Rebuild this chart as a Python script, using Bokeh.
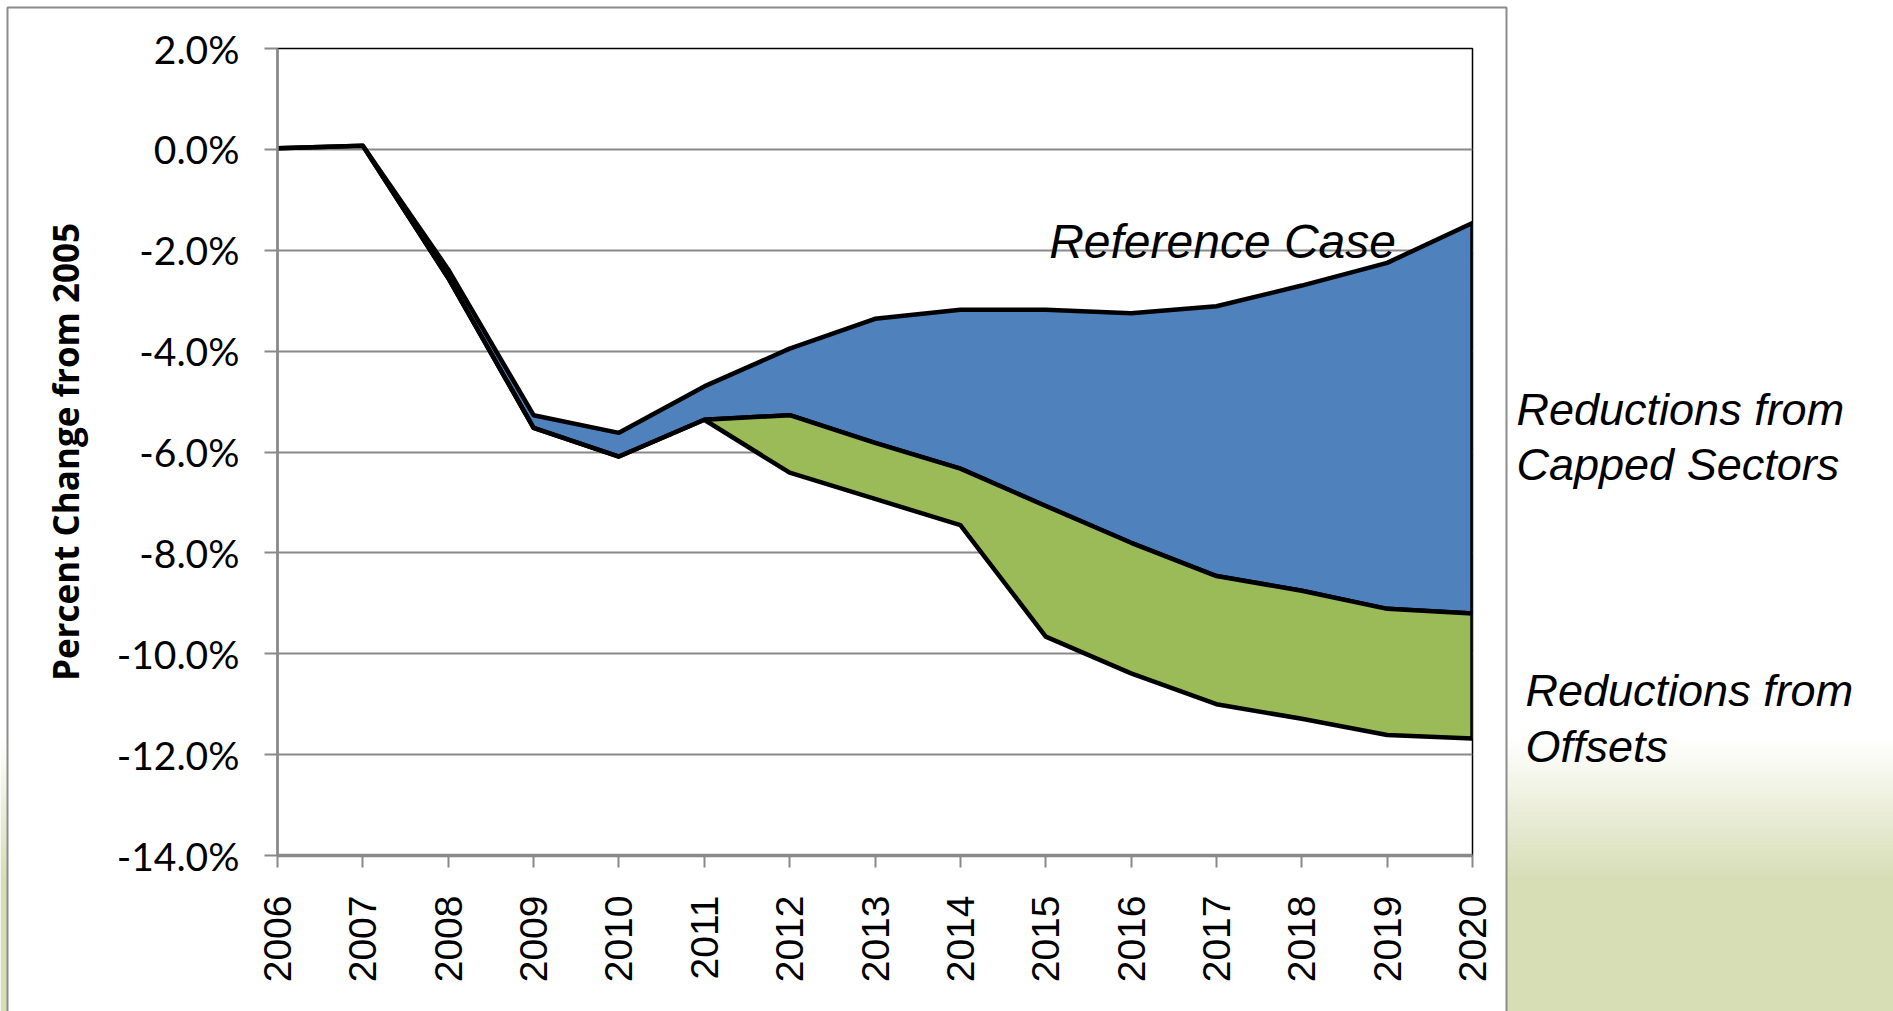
import math
from bokeh.plotting import figure
from bokeh.models import FixedTicker, Range1d, Label
from bokeh.embed import file_html
from bokeh.resources import INLINE

# ---------------- data ----------------
years = [2006, 2007, 2008, 2009, 2010, 2011, 2012, 2013, 2014, 2015, 2016, 2017, 2018, 2019, 2020]
reference_case = [0.02, 0.07, -2.38, -5.27, -5.62, -4.70, -3.95, -3.36, -3.18, -3.18, -3.25, -3.11, -2.70, -2.25, -1.46]
after_capped = [0.02, 0.07, -2.55, -5.52, -6.09, -5.36, -5.27, -5.82, -6.33, -7.07, -7.80, -8.46, -8.75, -9.11, -9.20]
after_offsets = [0.02, 0.07, -2.55, -5.52, -6.09, -5.36, -6.41, -6.93, -7.45, -9.66, -10.39, -11.00, -11.29, -11.61, -11.68]
y_ticks = [2, 0, -2, -4, -6, -8, -10, -12, -14]
y_tick_labels = ["2.0%", "0.0%", "-2.0%", "-4.0%", "-6.0%", "-8.0%", "-10.0%", "-12.0%", "-14.0%"]

BLUE = "#4F81BD"
GREEN = "#9BBB59"
GRID = "#898989"
PAGE_W, PAGE_H = 1893, 1011

# ---------------- page background (slide) ----------------
bg = figure(width=PAGE_W, height=PAGE_H, x_range=Range1d(0, PAGE_W), y_range=Range1d(PAGE_H, 0),
            toolbar_location=None, output_backend="svg", min_border=0,
            x_axis_location=None, y_axis_location=None,
            outline_line_color=None, background_fill_color="white", border_fill_color="white",
            styles={"position": "absolute", "left": "0px", "top": "0px"})
bg.grid.visible = False

g_top, g_bot, n = 735, 880, 40
c0 = (255, 255, 255)
c1 = (215, 221, 181)
tops, bots, cols = [], [], []
for i in range(n):
    t = i / (n - 1)
    tops.append(g_top + (g_bot - g_top) * i / n)
    bots.append(g_top + (g_bot - g_top) * (i + 1) / n + 0.5)
    cols.append("#%02x%02x%02x" % tuple(round(a + (b - a) * t) for a, b in zip(c0, c1)))
bg.quad(left=0, right=PAGE_W, top=tops, bottom=bots, fill_color=cols, line_color=None)
bg.quad(left=0, right=PAGE_W, top=g_bot, bottom=PAGE_H, fill_color="#d7ddb5", line_color=None)
# white chart card with grey border
bg.quad(left=7, right=1506, top=7, bottom=PAGE_H + 10, fill_color="white",
        line_color="#8c8c8c", line_width=2)

label_style = dict(text_font="Liberation Sans", text_font_style="italic", text_font_size="45px",
                   text_color="black", text_baseline="alphabetic", text_align="left")
bg.add_layout(Label(x=1516, y=409, text="Reductions from", **label_style))
bg.add_layout(Label(x=1516, y=464, text="Capped Sectors", **label_style))
bg.add_layout(Label(x=1525, y=690, text="Reductions from", **label_style))
bg.add_layout(Label(x=1525, y=746, text="Offsets", **label_style))

# ---------------- main chart ----------------
p = figure(width=1496, height=1000, x_range=Range1d(years[0], years[-1]),
           y_range=Range1d(min(y_ticks), max(y_ticks)),
           toolbar_location=None, output_backend="svg",
           min_border_left=268, min_border_right=33, min_border_top=39, min_border_bottom=154,
           background_fill_color="white", border_fill_color="white",
           outline_line_color="black", outline_line_width=1.5,
           styles={"position": "absolute", "left": "9px", "top": "9px", "z-index": "2"})

p.xgrid.visible = False
p.ygrid.ticker = FixedTicker(ticks=y_ticks)
p.ygrid.grid_line_color = GRID
p.ygrid.grid_line_width = 2

# capped-sector reductions (blue) and offset reductions (green)
p.patch(years + years[::-1], reference_case + after_capped[::-1],
        fill_color=BLUE, line_color="black", line_width=4.5, line_join="round")
p.patch(years + years[::-1], after_capped + after_offsets[::-1],
        fill_color=GREEN, line_color="black", line_width=4.5, line_join="round")

# axes
p.yaxis.ticker = FixedTicker(ticks=y_ticks)
p.yaxis.major_label_overrides = {t: l for t, l in zip(y_ticks, y_tick_labels)}
p.yaxis.major_label_text_font = "Lato"
p.yaxis.major_label_text_font_size = "39px"
p.yaxis.major_label_text_color = "black"
p.yaxis.major_label_standoff = 25
p.yaxis.major_tick_out = 13
p.yaxis.major_tick_in = 0
p.yaxis.minor_tick_out = 0
p.yaxis.minor_tick_in = 0
p.yaxis.major_tick_line_color = GRID
p.yaxis.major_tick_line_width = 2
p.yaxis.axis_line_color = GRID
p.yaxis.axis_line_width = 2.5
p.yaxis.axis_label = "Percent Change from 2005"
p.yaxis.axis_label_text_font = "Open Sans"
p.yaxis.axis_label_text_font_style = "bold"
p.yaxis.axis_label_text_font_size = "35px"
p.yaxis.axis_label_text_color = "black"
p.yaxis.axis_label_standoff = 25

p.xaxis.ticker = FixedTicker(ticks=years)
p.xaxis.major_label_orientation = math.pi / 2
p.xaxis.major_label_text_font = "Liberation Sans"
p.xaxis.major_label_text_font_size = "39px"
p.xaxis.major_label_text_color = "black"
p.xaxis.major_label_standoff = 28
p.xaxis.major_tick_out = 12
p.xaxis.major_tick_in = 0
p.xaxis.minor_tick_out = 0
p.xaxis.minor_tick_in = 0
p.xaxis.major_tick_line_color = GRID
p.xaxis.major_tick_line_width = 2
p.xaxis.axis_line_color = GRID
p.xaxis.axis_line_width = 3.5

p.add_layout(Label(x=2015.04, y=-1.83, text="Reference Case", text_font="Liberation Sans",
                   text_font_style="italic", text_font_size="48px", text_color="black",
                   text_baseline="alphabetic", text_align="left"))

open("out.html", "w").write(file_html([bg, p], INLINE))
